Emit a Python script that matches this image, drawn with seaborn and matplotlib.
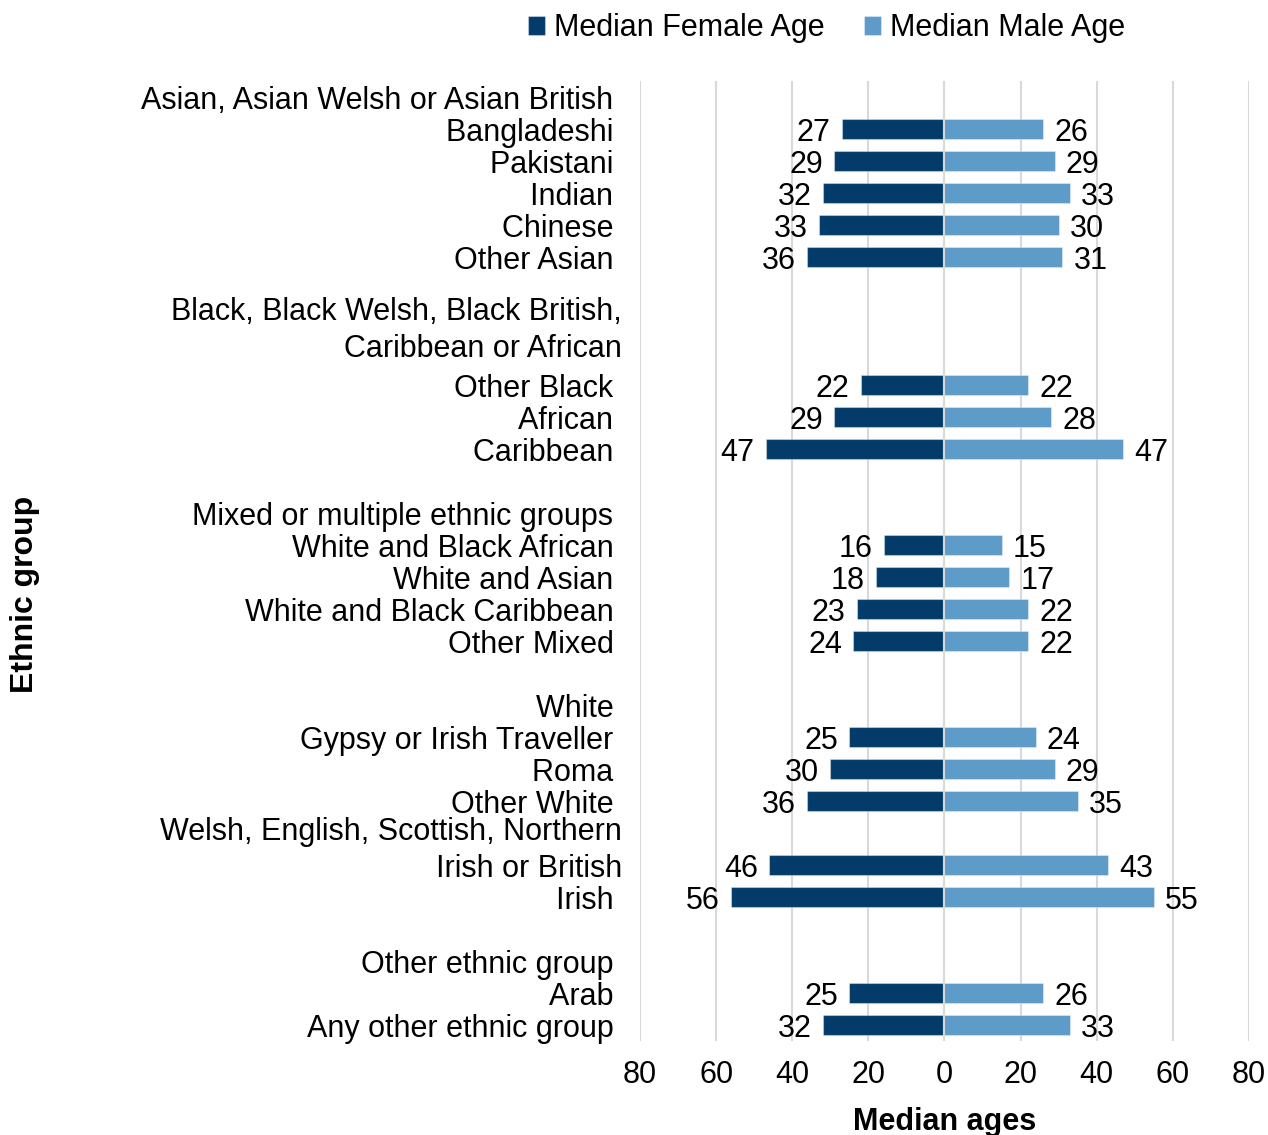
import numpy as np
import pandas as pd
import seaborn as sns
import matplotlib.pyplot as plt

# one entry per row of the chart, top to bottom; "" marks a spacer row,
# None values mark header / spacer rows without bars
ROW_LABELS = [
    "Asian, Asian Welsh or Asian British ",
    "Bangladeshi ",
    "Pakistani ",
    "Indian ",
    "Chinese ",
    "Other Asian ",
    "",
    "Black, Black Welsh, Black British,\nCaribbean or African",
    "",
    "Other Black ",
    "African ",
    "Caribbean ",
    "",
    "Mixed or multiple ethnic groups ",
    "White and Black African ",
    "White and Asian ",
    "White and Black Caribbean ",
    "Other Mixed ",
    "",
    "White ",
    "Gypsy or Irish Traveller ",
    "Roma ",
    "Other White ",
    "",
    "Welsh, English, Scottish, Northern\nIrish or British",
    "Irish ",
    "",
    "Other ethnic group ",
    "Arab ",
    "Any other ethnic group ",
]
FEMALE = [None, 27, 29, 32, 33, 36, None, None, None, 22, 29, 47, None, None,
          16, 18, 23, 24, None, None, 25, 30, 36, None, 46, 56, None, None, 25, 32]
MALE = [None, 26, 29, 33, 30, 31, None, None, None, 22, 28, 47, None, None,
        15, 17, 22, 22, None, None, 24, 29, 35, None, 43, 55, None, None, 26, 33]

# the wrapped two-line labels sit a little off their row in the original
LABEL_SHIFT = {7: 0.09, 24: -0.67}

SERIES = ["Median Female Age", "Median Male Age"]
PALETTE = {"Median Female Age": "#033c6b", "Median Male Age": "#5d9bc8"}

keys = [f"r{i:02d}" for i in range(len(ROW_LABELS))]
records = []
for key, f, m in zip(keys, FEMALE, MALE):
    if f is not None:
        records.append({"row": key, "series": SERIES[0], "age": -f})
    if m is not None:
        records.append({"row": key, "series": SERIES[1], "age": m})
DATA = pd.DataFrame(records)

sns.set_style("white")
plt.rcParams["font.family"] = ["Liberation Sans", "DejaVu Sans"]
plt.rcParams["font.size"] = 22
plt.rcParams["text.color"] = "black"
plt.rcParams["axes.labelcolor"] = "black"
plt.rcParams["xtick.color"] = "black"
plt.rcParams["ytick.color"] = "black"

fig = plt.figure(figsize=(12.68, 11.35), dpi=100)
ax = fig.add_axes([0.5047, 0.0828, 0.4803, 0.8458])

sns.barplot(
    data=DATA,
    x="age",
    y="row",
    hue="series",
    hue_order=SERIES,
    order=keys,
    palette=PALETTE,
    saturation=1,
    dodge=False,
    orient="h",
    width=0.65,
    edgecolor=(1, 1, 1, 0.35),
    linewidth=0.8,
    legend=True,
    ax=ax,
)

for container in ax.containers:
    texts = ax.bar_label(
        container,
        labels=[f"{abs(v):.0f}" for v in container.datavalues],
        padding=8,
        fontsize=22,
        color="black",
    )
    for t in texts:
        t.set_verticalalignment("center_baseline")

ax.set_xlim(-80, 80)
ticks = np.arange(-80, 81, 20)
ax.set_xticks(ticks, [str(abs(t)) for t in ticks])
ax.set_ylim(len(keys) - 0.5, -0.5)
positions = [i + LABEL_SHIFT.get(i, 0) for i in range(len(keys))]
ax.set_yticks(positions, ROW_LABELS)
for lbl in ax.get_yticklabels():
    if "\n" in lbl.get_text():
        lbl.set_linespacing(1.28)
ax.tick_params(axis="y", length=0, pad=13, labelsize=22)
ax.tick_params(axis="x", length=0, pad=14, labelsize=22)

ax.grid(axis="x", color="#d9d9d9", linewidth=1.5)
ax.grid(axis="y", visible=False)
ax.set_axisbelow(True)
ax.axvline(0, color="#d9d9d9", linewidth=1.5, zorder=3)
for spine in ax.spines.values():
    spine.set_visible(False)

ax.set_xlabel("Median ages", fontsize=22, fontweight="bold", labelpad=12)
ax.set_ylabel("Ethnic group", fontsize=23, fontweight="bold")
ax.yaxis.set_label_coords(-0.985, 0.465)

handles, labels = ax.get_legend_handles_labels()
ax.get_legend().remove()
fig.legend(
    handles,
    labels,
    loc="center",
    bbox_to_anchor=(0.652, 0.975),
    ncol=2,
    frameon=False,
    fontsize=22,
    handlelength=0.55,
    handleheight=0.55,
    handletextpad=0.3,
    columnspacing=1.3,
)

plt.savefig("out.png", dpi=100)
